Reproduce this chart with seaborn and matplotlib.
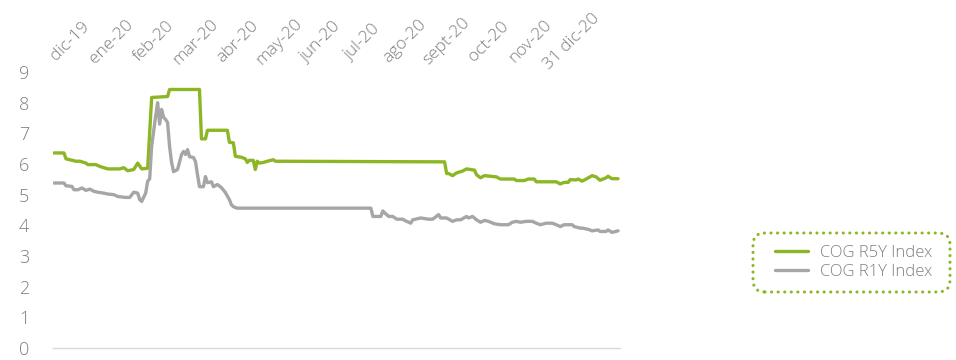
import pandas as pd
import matplotlib
matplotlib.use("Agg")
import matplotlib.pyplot as plt
from matplotlib.patches import FancyBboxPatch
import seaborn as sns

# sesiones (indice de observacion) y valores
r5y_x = [0, 5, 6, 11, 13, 16, 17, 21, 23, 27, 33, 35, 37, 40, 42, 44, 47,
         49, 57, 58, 73, 74, 76, 77, 87, 88, 90, 91, 94, 96, 97, 98, 100,
         101, 102, 103, 105, 107, 110, 111, 196, 197, 198, 200, 202, 203,
         205, 207, 211, 212, 214, 216, 222, 224, 231, 232, 236, 238, 241,
         242, 252, 254, 256, 258, 259, 262, 263, 265, 267, 270, 272, 274,
         277, 278, 280, 283]
r5y = [6.36, 6.36, 6.17, 6.09, 6.09, 6.03, 5.98, 5.98, 5.92, 5.84, 5.84,
       5.88, 5.78, 5.82, 6.03, 5.84, 5.86, 8.17, 8.2, 8.43, 8.43, 6.82,
       6.82, 7.10, 7.10, 6.71, 6.69, 6.25, 6.22, 6.17, 6.05, 6.12, 6.12,
       5.82, 6.09, 6.03, 6.05, 6.09, 6.14, 6.09, 6.07, 5.69, 5.69, 5.62,
       5.71, 5.73, 5.77, 5.84, 5.80, 5.65, 5.55, 5.62, 5.58, 5.51, 5.51,
       5.46, 5.46, 5.51, 5.51, 5.42, 5.42, 5.35, 5.40, 5.40, 5.49, 5.48,
       5.51, 5.44, 5.51, 5.62, 5.58, 5.47, 5.55, 5.60, 5.52, 5.52]

r1y_x = [0, 5, 6, 9, 10, 12, 14, 16, 18, 20, 22, 25, 27, 30, 32, 36, 38,
         40, 42, 43, 44, 46, 47, 48, 49, 51, 52, 53, 54, 55, 56, 57, 58,
         59, 60, 62, 64, 65, 66, 67, 68, 70, 71, 72, 73, 75, 76, 77, 79,
         80, 82, 84, 86, 88, 89, 90, 91, 92, 159, 160, 164, 165, 166, 168,
         170, 172, 175, 176, 179, 180, 184, 188, 190, 193, 194, 197, 200,
         202, 204, 207, 208, 210, 212, 214, 216, 218, 221, 224, 228, 230,
         232, 234, 237, 240, 242, 244, 247, 250, 252, 254, 256, 260, 261,
         264, 265, 268, 270, 273, 274, 277, 278, 280, 283]
r1y = [5.38, 5.38, 5.29, 5.27, 5.16, 5.16, 5.22, 5.14, 5.18, 5.11, 5.08,
       5.05, 5.02, 5.00, 4.94, 4.91, 4.91, 5.08, 5.05, 4.84, 4.78, 5.05,
       5.44, 5.51, 6.58, 7.56, 8.0, 7.3, 7.78, 7.52, 7.45, 7.35, 6.57,
       6.05, 5.75, 5.82, 6.31, 6.41, 6.31, 6.47, 6.24, 6.21, 6.08, 5.65,
       5.26, 5.26, 5.59, 5.39, 5.42, 5.26, 5.33, 5.23, 5.07, 4.84, 4.67,
       4.61, 4.58, 4.56, 4.56, 4.29, 4.29, 4.47, 4.40, 4.29, 4.29, 4.20,
       4.20, 4.16, 4.07, 4.18, 4.24, 4.20, 4.20, 4.35, 4.24, 4.24, 4.13,
       4.18, 4.18, 4.29, 4.24, 4.29, 4.18, 4.10, 4.16, 4.13, 4.05, 4.02,
       4.02, 4.10, 4.13, 4.10, 4.13, 4.13, 4.07, 4.02, 4.07, 4.07, 4.02,
       3.96, 4.02, 4.02, 3.96, 3.91, 3.91, 3.87, 3.82, 3.85, 3.80, 3.80,
       3.85, 3.77, 3.82]

meses = ["dic-19", "ene-20", "feb-20", "mar-20", "abr-20", "may-20", "jun-20",
         "jul-20", "ago-20", "sept-20", "oct-20", "nov-20", "31 dic-20"]
series = ["COG R5Y Index", "COG R1Y Index"]

verde = "#8DB624"
gris = "#A6A6A6"
texto = "#7F7F7F"

df = pd.concat([
    pd.DataFrame({"sesion": r5y_x, "valor": r5y, "serie": series[0]}),
    pd.DataFrame({"sesion": r1y_x, "valor": r1y, "serie": series[1]}),
])

sns.set_style("white")
plt.rcParams["font.family"] = ["Open Sans", "DejaVu Sans"]

fig = plt.figure(figsize=(9.56, 3.6), dpi=100)
ax = fig.add_axes([53 / 956, 12 / 360, 567 / 956, 276 / 360])

sns.lineplot(data=df, x="sesion", y="valor", hue="serie", hue_order=series,
             palette=[verde, gris], linewidth=2.4, ax=ax, legend=True)

ax.set_xlim(-0.5, 284)
ax.set_ylim(0, 9)
ax.set_xlabel("")
ax.set_ylabel("")
sns.despine(ax=ax, left=True)
ax.spines["bottom"].set_color("#D9D9D9")
ax.spines["bottom"].set_linewidth(1)

ax.set_yticks(range(0, 10))
ax.tick_params(axis="y", length=0, pad=17, labelsize=13, labelcolor=texto)
for t in ax.get_yticklabels():
    t.set_fontweight("light")

ax.set_xticks([21 * i for i in range(14)])
ax.set_xticklabels([])
ax.tick_params(axis="x", length=4, width=1, color="#D9D9D9", direction="out")

trans = ax.get_xaxis_transform()
for i, m in enumerate(meses):
    ax.text(21 * i + 8, 1.11, m, transform=trans, rotation=45,
            ha="center", va="center", rotation_mode="anchor",
            fontsize=12.5, color=texto, fontweight="light")

# leyenda
handles, labels = ax.get_legend_handles_labels()
leg = ax.legend(handles, labels, loc="center", frameon=False,
                bbox_to_anchor=(0.893, 0.271), bbox_transform=fig.transFigure,
                fontsize=12, handlelength=2.0, handletextpad=0.7,
                labelspacing=0.2, labelcolor=texto)
for t in leg.get_texts():
    t.set_fontweight("light")

caja = FancyBboxPatch((753 / 956, 68 / 360), 197 / 956, 59 / 360,
                      boxstyle="round,pad=0,rounding_size=0.0125",
                      mutation_aspect=956 / 360, transform=fig.transFigure,
                      facecolor="none", edgecolor=verde, linewidth=2.2,
                      linestyle=(0, (0.05, 2.1)))
caja.set_capstyle("round")
fig.patches.append(caja)

fig.savefig("out.png", dpi=100)
